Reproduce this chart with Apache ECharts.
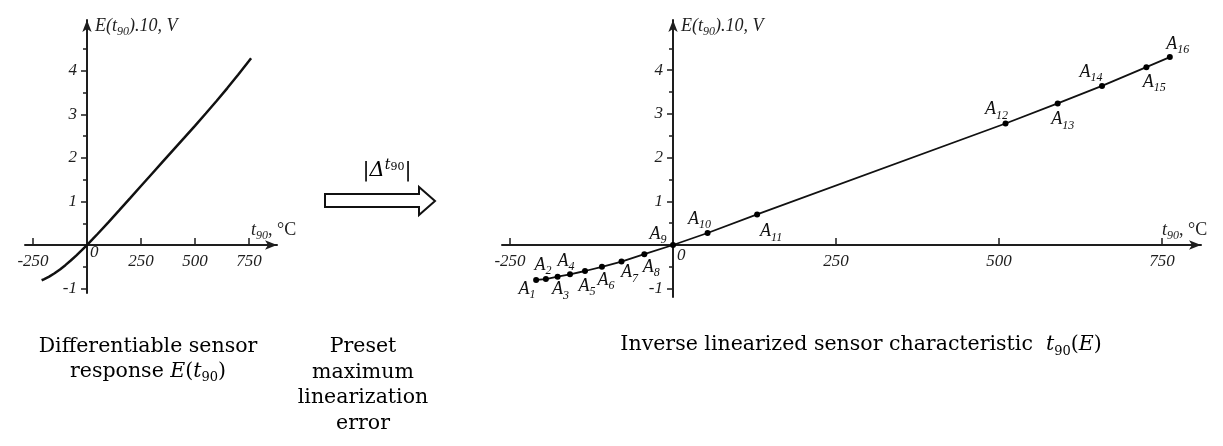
<!DOCTYPE html>
<html><head><meta charset="utf-8">
<script src="https://cdn.jsdelivr.net/npm/echarts@6/dist/echarts.min.js"></script>
<style>html,body{margin:0;padding:0;background:#fff}#c{width:1223px;height:446px}</style>
</head><body><div id="c"></div>
<script>
// ---- data ----
const curveT = [-210,-200,-175,-150,-125,-100,-75,-50,-25,0,25,50,100,150,200,250,300,350,400,450,500,550,600,650,700,750,760];
const curveE = [-0.810,-0.789,-0.727,-0.650,-0.562,-0.463,-0.357,-0.243,-0.124,0,0.128,0.259,0.527,0.801,1.078,1.356,1.633,1.909,2.185,2.461,2.739,3.022,3.310,3.607,3.913,4.228,4.292];
const pointT = [-210,-195,-177,-158,-135,-109,-79,-44,0,53,129,510,590,658,726,762];
const pointE = [-0.80,-0.78,-0.725,-0.67,-0.595,-0.50,-0.38,-0.21,0,0.275,0.70,2.78,3.24,3.64,4.07,4.30];
const pointIndex = ['1','2','3','4','5','6','7','8','9','10','11','12','13','14','15','16'];
const xTicks = [-250,250,500,750];
const yTicks = [-1,1,2,3,4];
const yMinorTicks = [-0.5,0.5,1.5,2.5,3.5,4.5];
const zeroTick = [0];

// ---- styling / layout ----
const labelOffsets = [[-9,9],[-3,-14],[3,13],[-4,-13],[2,15],[4,13],[8,11],[7,13],[-15,-11],[-8,-14],[14,17],[-9,-14],[5,16],[-11,-14],[8,15],[8,-13]];
const SERIF = 'Liberation Serif';
const CAP = 'DejaVu Serif';
const AX = '#1e1e1e';
const L = {left:25, top:20, width:252, height:273, xMin:-287, xMax:880, yMin:-1.103, yMax:5.172, xNameGap:-26, zeroPad:3, zeroMargin:-1};
const R = {left:502, top:20, width:699, height:277, xMin:-262.3, xMax:809.8, yMin:-1.19, yMax:5.149, xNameGap:-39, zeroPad:4, zeroMargin:2};

const axisRich = {
  n:{fontFamily:SERIF, fontStyle:'italic', fontSize:18, lineHeight:24, color:AX},
  u:{fontFamily:SERIF, fontSize:18, lineHeight:24, color:AX},
  s:{fontFamily:SERIF, fontStyle:'italic', fontSize:12, verticalAlign:'bottom', color:AX}
};
const tickFont = {color:AX, fontFamily:SERIF, fontStyle:'italic', fontSize:17};

function xOff(g){ return -g.height*(0-g.yMin)/(g.yMax-g.yMin); }
function yOff(g){ return -g.width*(0-g.xMin)/(g.xMax-g.xMin); }

function xAxes(g, gi){
  return [{
    gridIndex:gi, type:'value', min:g.xMin, max:g.xMax, position:'bottom', offset:xOff(g),
    axisLine:{show:true, onZero:false, symbol:['none','arrow'], symbolSize:[7,12], lineStyle:{color:AX, width:2}},
    axisTick:{show:true, customValues:xTicks, inside:true, length:7, lineStyle:{color:AX, width:1.5}},
    axisLabel:Object.assign({show:true, customValues:xTicks, margin:8}, tickFont),
    splitLine:{show:false},
    name:'{n|t}{s|90}{u|, °C}', nameLocation:'end', nameGap:g.xNameGap,
    nameTextStyle:{align:'left', verticalAlign:'bottom', padding:[0,0,3,0], rich:axisRich}
  },{
    gridIndex:gi, type:'value', min:g.xMin, max:g.xMax, position:'bottom', offset:xOff(g),
    axisLine:{show:false, onZero:false}, axisTick:{show:false}, splitLine:{show:false},
    axisLabel:Object.assign({show:true, customValues:zeroTick, margin:g.zeroMargin, align:'left', padding:[0,0,0,g.zeroPad]}, tickFont)
  }];
}
function yAxes(g, gi){
  return [{
    gridIndex:gi, type:'value', min:g.yMin, max:g.yMax, position:'left', offset:yOff(g),
    axisLine:{show:true, onZero:false, symbol:['none','arrow'], symbolSize:[7,12], lineStyle:{color:AX, width:2}},
    axisTick:{show:true, customValues:yTicks, length:6, lineStyle:{color:AX, width:1.5}},
    axisLabel:Object.assign({show:true, customValues:yTicks, margin:10}, tickFont),
    splitLine:{show:false},
    name:'{n|E(t}{s|90}{n|).10, V}', nameLocation:'end', nameGap:-6,
    nameTextStyle:{align:'left', verticalAlign:'middle', padding:[0,0,0,8], rich:axisRich}
  },{
    gridIndex:gi, type:'value', min:g.yMin, max:g.yMax, position:'left', offset:yOff(g),
    axisLine:{show:false, onZero:false}, splitLine:{show:false}, axisLabel:{show:false},
    axisTick:{show:true, customValues:yMinorTicks, length:4, lineStyle:{color:AX, width:1.5}}
  }];
}

const chart = echarts.init(document.getElementById('c'), null, {renderer:'canvas'});
const capRich = {
  r:{fontFamily:CAP, fontSize:20.5, color:'#111', lineHeight:25.5},
  i:{fontFamily:CAP, fontStyle:'italic', fontSize:20.5, color:'#111', lineHeight:25.5},
  b:{fontFamily:CAP, fontSize:13, color:'#111', verticalAlign:'bottom'}
};
chart.setOption({
  animation:false,
  backgroundColor:'#fff',
  grid:[
    {left:L.left, top:L.top, width:L.width, height:L.height, containLabel:false, outerBoundsMode:'none'},
    {left:R.left, top:R.top, width:R.width, height:R.height, containLabel:false, outerBoundsMode:'none'}
  ],
  xAxis: xAxes(L,0).concat(xAxes(R,1)),
  yAxis: yAxes(L,0).concat(yAxes(R,1)),
  series:[{
    type:'line', xAxisIndex:0, yAxisIndex:0, showSymbol:false, silent:true,
    lineStyle:{color:'#111', width:2.5},
    data: curveT.map((t,i)=>[t, curveE[i]])
  },{
    type:'line', xAxisIndex:2, yAxisIndex:2, symbol:'circle', symbolSize:6, silent:true,
    itemStyle:{color:'#000'}, lineStyle:{color:'#111', width:1.8},
    label:{show:true, position:'inside',
      formatter:p=>'{a|A}{s|'+pointIndex[p.dataIndex]+'}',
      rich:{a:{fontFamily:SERIF, fontStyle:'italic', fontSize:18, lineHeight:24, color:'#111'},
            s:{fontFamily:SERIF, fontStyle:'italic', fontSize:12, verticalAlign:'bottom', color:'#111'}}},
    data: pointT.map((t,i)=>({value:[t, pointE[i]], label:{offset:labelOffsets[i]}}))
  }],
  graphic:[
    {type:'polygon', shape:{points:[[325,194],[419,194],[419,187],[435,201],[419,215],[419,207],[325,207]]},
     style:{fill:'#fff', stroke:'#111', lineWidth:2}},
    {type:'text', x:387, y:171, style:{text:'{r||}{i|Δ}{p|t}{q|90}{r||}', align:'center', verticalAlign:'middle',
      rich:{r:{fontFamily:CAP, fontSize:21, color:'#111', lineHeight:26},
            i:{fontFamily:CAP, fontStyle:'italic', fontSize:21, color:'#111', lineHeight:26},
            p:{fontFamily:CAP, fontStyle:'italic', fontSize:14, color:'#111', verticalAlign:'top'},
            q:{fontFamily:CAP, fontSize:11, color:'#111', verticalAlign:'top', padding:[4,0,0,0]}}}},
    {type:'text', x:148, y:359, style:{text:'{r|Differentiable sensor}\n{r|response }{i|E}{r|(}{i|t}{b|90}{r|)}', align:'center', verticalAlign:'middle', rich:capRich}},
    {type:'text', x:363, y:385, style:{text:'{r|Preset}\n{r|maximum}\n{r|linearization}\n{r|error}', align:'center', verticalAlign:'middle', rich:capRich}},
    {type:'text', x:861, y:345, style:{text:'{r|Inverse linearized sensor characteristic  }{i|t}{b|90}{r|(}{i|E}{r|)}', align:'center', verticalAlign:'middle', rich:capRich}}
  ]
});
</script>
</body></html>
